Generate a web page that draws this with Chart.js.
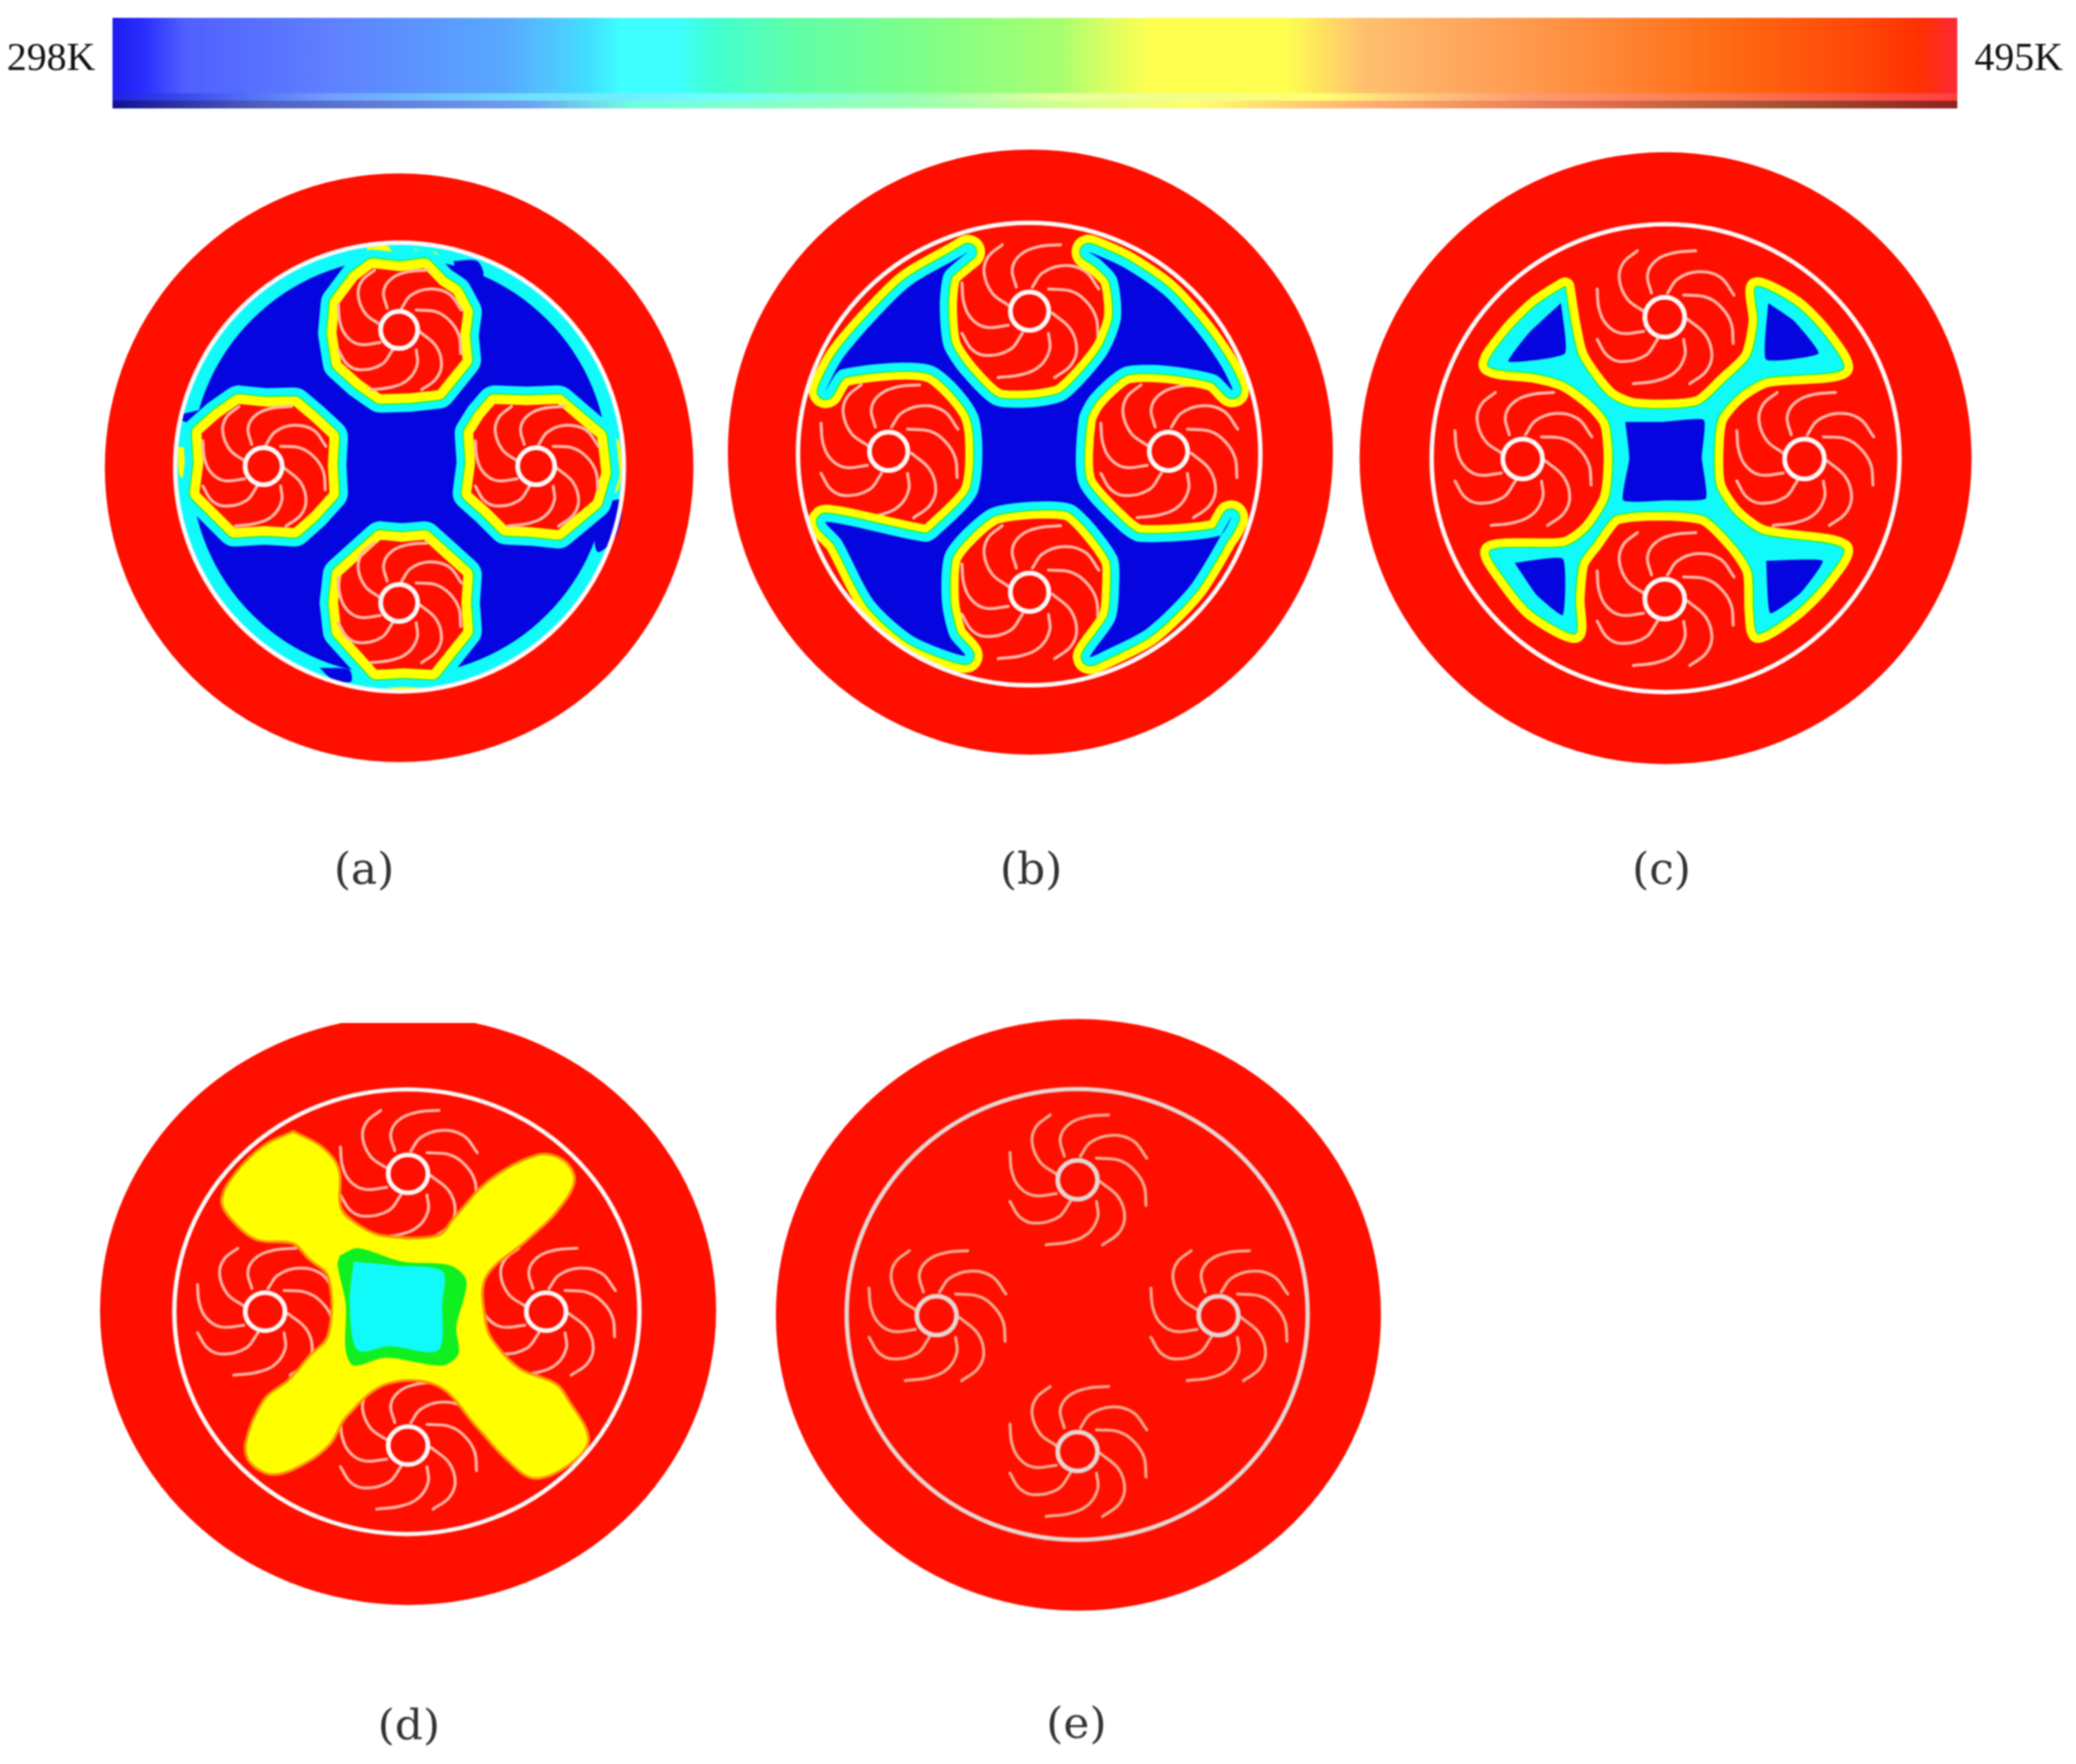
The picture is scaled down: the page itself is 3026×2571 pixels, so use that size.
<!DOCTYPE html>
<html>
<head>
<meta charset="utf-8">
<script src="https://cdn.jsdelivr.net/npm/chart.js@4/dist/chart.umd.min.js"></script>
<style>
  html, body { margin: 0; background: #fff; }
  #page { position: relative; width: 3026px; height: 2571px; overflow: hidden; }
  canvas { position: absolute; filter: blur(1.2px); }
</style>
</head>
<body>
<div id="page"></div>
<script>
// colour bar
const barLabels = ['298K', '495K'];
const barRange = [298, 495];
const mainTemps = [298, 301.5, 305.8, 321.3, 339.7, 345.4, 348.9, 352.4, 358.1, 362.3, 370.8, 385, 399.1, 404.8, 409, 423.2, 427.4, 431.6, 441.5, 455.7, 469.8, 484, 491, 495];
const mainColors = ['#1c1cf0', '#2a30ff', '#5060ff', '#5f80ff', '#58a8ff', '#50c8ff', '#40e0ff', '#40ffff', '#40ffff', '#40ffd0', '#60ffa8', '#80ff88', '#a8ff70', '#e0ff60', '#ffff50', '#ffff50', '#ffe060', '#ffc070', '#ffa860', '#ff8c3c', '#ff6c14', '#ff4808', '#ff3000', '#ff2838'];
const lightTemps = [298, 321.3, 342.5, 363.7, 385, 399.1, 427.4, 435.9, 448.6, 469.8, 495];
const lightColors = ['#2020e0', '#70a0ff', '#70e0ff', '#70ffff', '#a0ffb0', '#e8ffa0', '#ffff70', '#ffd080', '#ff9c70', '#ff7850', '#ff4040'];
const darkTemps = [298, 314, 342.5, 353.8, 385, 413.3, 431.6, 455.7, 477, 495];
const darkColors = ['#101090', '#5060c0', '#70a0f0', '#70ffe0', '#a0ffb0', '#ffff70', '#ffb070', '#e07050', '#a05030', '#902020'];

// panels, all shapes below are in the crop units of each panel
const panelLabels = ['(a)', '(b)', '(c)', '(d)', '(e)'];
const labelX = [698, 772, 770, 777, 765];
// left, top, width, height on the page
const panelBoxes = [[130, 230, 900, 900], [1050, 200, 920, 920], [1970, 210, 920, 920], [140, 1491, 920, 869], [1120, 1470, 920, 900]];
const panelScales = [1.742, 1.704, 1.704, 1.704, 1.704];
const panelSquash = [1, 1, 1, 0.956, 0.978];
const panelTop = [0, 0, 0, 20, 0];
const labelPadding = [103, 113, 103, 128, 112];
const discCentres = [[787, 787], [770, 782], [780, 780], [775, 767], [770, 778]];
const discRadii = [429, 441, 446, 449, 441];
const ringCentres = [[788, 785], [767, 787], [780, 780], [772, 770], [767, 777]];
const ringRadii = [327, 337, 341, 339, 336];
const hubCentres = [
  [[787, 437], [443, 783], [1135, 783], [787, 1130]],
  [[768, 432], [418, 780], [1113, 780], [768, 1130]],
  [[778, 430], [425, 782], [1125, 782], [778, 1130]],
  [[775, 412], [420, 770], [1118, 770], [775, 1118]],
  [[768, 435], [418, 780], [1118, 780], [768, 1125]]
];
const hubRadii = [27, 28, 29, 29, 29];
const bladeSizes = [0.92, 1, 1, 1, 1];
const bladeCurves = [
  [[7, -60], [32, -95], [82, -113], [137, -100], [172, -55]],
  [[47, -55], [102, -50], [140, -25], [165, 15], [170, 65]],
  [[57, 5], [102, 45], [117, 95], [102, 135], [62, 165]],
  [[47, 55], [50, 95], [27, 135], [-18, 157], [-78, 165]],
  [[-18, 55], [-48, 95], [-108, 110], [-143, 95], [-168, 55]],
  [[-53, 35], [-108, 40], [-143, 20], [-163, -20], [-168, -70]],
  [[-53, -15], [-93, -45], [-113, -95], [-103, -135], [-68, -165]],
  [[-33, -60], [-43, -105], [-23, -140], [22, -160], [77, -165]]
];

// (a)
const lobesA = [
  [[720, 280], [790, 288], [850, 280], [890, 322], [925, 345], [950, 392], [942, 450], [948, 512], [885, 590], [815, 598], [740, 600], [690, 565], [640, 520], [628, 445], [635, 370], [680, 310]],
  [[380, 625], [450, 632], [520, 630], [565, 668], [610, 710], [606, 780], [610, 850], [565, 900], [520, 940], [445, 935], [370, 940], [322, 892], [280, 850], [290, 775], [285, 700], [330, 660]],
  [[1030, 625], [1110, 628], [1190, 625], [1240, 668], [1290, 710], [1296, 760], [1300, 800], [1280, 870], [1190, 945], [1125, 938], [1060, 935], [1015, 890], [970, 850], [980, 775], [975, 700], [1000, 660]],
  [[740, 970], [795, 975], [850, 970], [900, 1015], [950, 1060], [945, 1130], [950, 1200], [910, 1250], [870, 1300], [800, 1296], [730, 1300], [685, 1250], [640, 1200], [632, 1130], [640, 1060], [690, 1015]]
];
const blueWallA = [
  [[925, 262], [985, 262], [1000, 300], [940, 310]],
  [[235, 650], [300, 640], [290, 670], [235, 668]],
  [[585, 1295], [660, 1300], [665, 1330], [620, 1325]],
  [[1280, 888], [1350, 870], [1338, 960], [1290, 1000]]
];
const yellowWallA = [
  [[705, 228], [760, 225], [770, 270], [710, 265]],
  [[825, 232], [880, 240], [890, 275], [830, 265]],
  [[225, 735], [280, 735], [270, 810], [232, 810]],
  [[1310, 700], [1345, 720], [1345, 840], [1300, 860]],
  [[715, 1310], [790, 1320], [860, 1310], [855, 1345], [730, 1342]]
];

// (b)
const blueB = [[615, 285], [590, 305], [555, 340], [545, 420], [555, 520], [600, 590], [680, 665], [780, 670], [860, 650], [960, 540], [995, 450], [985, 350], [945, 305], [915, 285], [1000, 322], [1100, 390], [1190, 490], [1245, 570], [1272, 628], [1230, 590], [1100, 567], [1000, 572], [920, 640], [890, 700], [890, 860], [990, 975], [1040, 1005], [1240, 990], [1268, 945], [1170, 1110], [1060, 1220], [945, 1280], [918, 1290], [980, 1200], [990, 1130], [985, 1040], [880, 915], [780, 905], [665, 925], [560, 1030], [550, 1150], [570, 1240], [608, 1288], [480, 1240], [380, 1150], [300, 1000], [262, 955], [510, 1005], [540, 990], [640, 880], [640, 690], [525, 567], [300, 577], [262, 630], [300, 555], [370, 470], [470, 370], [590, 300]];

// (c)
const cyanC = [[530, 355], [545, 450], [565, 530], [635, 625], [700, 655], [860, 650], [930, 590], [990, 530], [1010, 440], [1005, 355], [1100, 400], [1170, 470], [1220, 558], [1030, 580], [960, 620], [910, 680], [900, 760], [905, 850], [950, 920], [1020, 970], [1220, 1005], [1170, 1090], [1100, 1160], [1010, 1215], [1000, 1160], [995, 1060], [950, 990], [870, 920], [660, 920], [600, 990], [565, 1040], [555, 1130], [555, 1215], [450, 1160], [390, 1090], [345, 1010], [530, 1000], [590, 960], [640, 880], [650, 780], [640, 690], [600, 640], [530, 590], [460, 570], [340, 550], [390, 470], [460, 400]];
const blueC = [
  [[520, 395], [530, 520], [390, 540], [440, 470]],
  [[1035, 395], [1100, 440], [1160, 520], [1030, 535]],
  [[405, 1040], [525, 1030], [525, 1170], [460, 1120]],
  [[1030, 1035], [1170, 1035], [1115, 1115], [1040, 1165]],
  [[680, 690], [770, 690], [875, 685], [870, 780], [880, 880], [780, 885], [675, 885], [690, 780]]
];

// (d)
const yellowD = [[490, 305], [560, 345], [600, 400], [605, 500], [640, 540], [710, 575], [850, 575], [890, 530], [980, 430], [1100, 365], [1160, 380], [1185, 430], [1140, 510], [1070, 580], [965, 680], [965, 800], [985, 850], [1050, 920], [1140, 960], [1170, 1000], [1220, 1100], [1180, 1160], [1090, 1200], [1020, 1150], [950, 1070], [850, 960], [720, 955], [620, 1040], [580, 1110], [520, 1160], [440, 1190], [385, 1160], [375, 1110], [420, 1000], [480, 950], [530, 890], [580, 830], [580, 680], [530, 630], [490, 590], [400, 580], [340, 530], [315, 480], [350, 410], [420, 340]];
const greenD = [[605, 625], [650, 605], [760, 640], [880, 650], [920, 690], [895, 810], [900, 880], [860, 910], [720, 890], [640, 910], [620, 870], [620, 750], [600, 650]];
const cyanD = [[640, 640], [740, 650], [860, 665], [860, 750], [850, 870], [730, 860], [650, 870], [630, 750]];

const RED = '#ff0f00', BLUE = '#0505e0', CYAN = '#10fafa', GREEN = '#10f020', YELLOW = '#ffff00', ORANGE = '#ff9000';
const WHITE = '#fff6f6';

const toXY = pts => pts.map(p => ({ x: p[0], y: p[1] }));

function region(points, color, width, tension) {
  return {
    data: toXY(points.concat([points[0]])),
    showLine: true, fill: 'shape', backgroundColor: color, borderColor: color,
    borderWidth: width || 0, pointRadius: 0, tension: tension || 0,
    borderJoinStyle: 'round', borderCapStyle: 'round', clip: 0
  };
}

function disc(centres, radius, color, edge, edgeWidth) {
  return {
    data: toXY(centres), showLine: false, pointRadius: radius, pointHoverRadius: radius,
    pointBackgroundColor: color, pointBorderColor: edge || color, pointBorderWidth: edgeWidth || 0, clip: 0
  };
}

function blade(hub, curve, size, color, width) {
  return {
    data: curve.map(p => ({ x: hub[0] + p[0] * size, y: hub[1] + p[1] * size })),
    showLine: true, fill: false, borderColor: color, borderWidth: width, pointRadius: 0,
    tension: 0.4, borderCapStyle: 'round', clip: 0
  };
}

// what lies between the disc and the blades, in paint order
function contours(i) {
  const out = [];
  if (i === 0) {
    out.push(disc([ringCentres[0]], 325, CYAN));
    out.push(disc([ringCentres[0]], 304, BLUE));
    blueWallA.forEach(p => out.push(region(p, BLUE, 0, 0.3)));
    yellowWallA.forEach(p => out.push(region(p, YELLOW, 0, 0.3)));
    lobesA.forEach(p => out.push(region(p, CYAN, 54)));
    lobesA.forEach(p => out.push(region(p, GREEN, 31)));
    lobesA.forEach(p => out.push(region(p, YELLOW, 28)));
    lobesA.forEach(p => out.push(region(p, RED)));
  } else if (i === 1) {
    out.push(region(blueB, YELLOW, 50, 0.25));
    out.push(region(blueB, GREEN, 27, 0.25));
    out.push(region(blueB, CYAN, 24, 0.25));
    out.push(region(blueB, BLUE, 0, 0.25));
  } else if (i === 2) {
    out.push(region(cyanC, YELLOW, 28, 0.25));
    out.push(region(cyanC, GREEN, 3, 0.25));
    out.push(region(cyanC, CYAN, 0, 0.25));
    blueC.forEach(p => out.push(region(p, BLUE, 0, 0.15)));
  } else if (i === 3) {
    out.push(region(yellowD, ORANGE, 8, 0.35));
    out.push(region(yellowD, YELLOW, 0, 0.35));
    out.push(region(greenD, GREEN, 0, 0.3));
    out.push(region(cyanD, CYAN, 0, 0.3));
  }
  return out;
}

function addCanvas(left, top, width, height, cssHeight) {
  const c = document.createElement('canvas');
  c.width = width;
  c.height = height;
  c.style.left = left + 'px';
  c.style.top = top + 'px';
  c.style.width = width + 'px';
  c.style.height = cssHeight + 'px';
  document.getElementById('page').appendChild(c);
  return c;
}

function drawPanel(i) {
  const [left, top, w, hPage] = panelBoxes[i];
  const squash = panelSquash[i];
  const h = Math.round(hPage / squash);
  const band = 200;
  const canvas = addCanvas(left, top, w, h + band, (h + band) * squash);
  const s = panelScales[i];
  const isE = i === 4;
  const lineColor = isE ? '#e8d4d0' : WHITE;
  const bladeColor = isE ? '#f2a88c' : '#ffb4a4';

  const blades = [];
  hubCentres[i].forEach(hub => {
    bladeCurves.forEach(curve => blades.push(blade(hub, curve, bladeSizes[i], bladeColor, 4.5)));
  });

  // in (a) the blades sit on the red lobes, elsewhere the cold zones cut them off
  const layers = [disc([discCentres[i]], discRadii[i], RED)];
  if (i === 0) layers.push(...contours(i), ...blades);
  else layers.push(...blades, ...contours(i));
  layers.push(disc(hubCentres[i], hubRadii[i], RED, lineColor, 7));
  layers.push(disc([ringCentres[i]], ringRadii[i], 'rgba(0,0,0,0)', lineColor, 6.5));

  new Chart(canvas, {
    type: 'scatter',
    // first dataset is painted last
    data: { datasets: layers.reverse() },
    options: {
      responsive: false,
      animation: false,
      events: [],
      layout: { padding: 0, autoPadding: false },
      plugins: { legend: { display: false }, tooltip: { enabled: false } },
      scales: {
        x: {
          type: 'linear', min: 0, max: w * s,
          border: { display: false },
          grid: { display: false, drawTicks: false },
          afterBuildTicks: axis => { axis.ticks = [{ value: labelX[i] }]; },
          afterFit: axis => { axis.height = band; axis.paddingLeft = 0; axis.paddingRight = 0; },
          ticks: {
            callback: () => panelLabels[i],
            color: '#333', padding: labelPadding[i], maxRotation: 0, autoSkip: false,
            font: { family: '"DejaVu Serif"', size: 64 }
          }
        },
        y: {
          type: 'linear', reverse: true, display: false,
          min: panelTop[i], max: panelTop[i] + h * s
        }
      }
    }
  });
}

function drawBar() {
  const canvas = addCanvas(0, 26, 3026, 132, 132);
  const ctx = canvas.getContext('2d');
  const ramp = (temps, colors) => {
    const g = ctx.createLinearGradient(164, 0, 2853, 0);
    temps.forEach((t, k) => g.addColorStop((t - barRange[0]) / (barRange[1] - barRange[0]), colors[k]));
    return g;
  };
  const main = ramp(mainTemps, mainColors);
  const light = ramp(lightTemps, lightColors);
  const dark = ramp(darkTemps, darkColors);
  const rowFills = [main, main, main, main, main, main, main, main, main, main, light, dark];
  const rows = rowFills.map((f, k) => String(k));
  const font = { family: '"Liberation Serif"', size: 58 };
  const noPad = axis => { axis.paddingTop = 0; axis.paddingBottom = 0; };

  new Chart(canvas, {
    type: 'bar',
    data: {
      labels: rows,
      datasets: [{
        data: rows.map(() => barRange),
        backgroundColor: rowFills,
        barPercentage: 1, categoryPercentage: 1, borderWidth: 0, yAxisID: 'y'
      }]
    },
    options: {
      indexAxis: 'y',
      responsive: false,
      animation: false,
      events: [],
      layout: { padding: 0, autoPadding: false },
      plugins: { legend: { display: false }, tooltip: { enabled: false } },
      scales: {
        x: { type: 'linear', min: barRange[0], max: barRange[1], display: false },
        y: {
          type: 'category', position: 'left',
          grid: { display: false, drawTicks: false }, border: { display: false },
          afterFit: axis => { axis.width = 164; noPad(axis); },
          ticks: {
            autoSkip: false, padding: 25, color: '#111', font,
            callback: (v, k) => (k === 5 ? barLabels[0] : '')
          }
        },
        y2: {
          type: 'category', position: 'right', labels: rows,
          grid: { display: false, drawTicks: false }, border: { display: false },
          afterFit: axis => { axis.width = 173; noPad(axis); },
          ticks: {
            autoSkip: false, padding: 25, color: '#111', font,
            callback: (v, k) => (k === 5 ? barLabels[1] : '')
          }
        }
      }
    }
  });
}

drawBar();
panelLabels.forEach((label, i) => drawPanel(i));
</script>
</body>
</html>
